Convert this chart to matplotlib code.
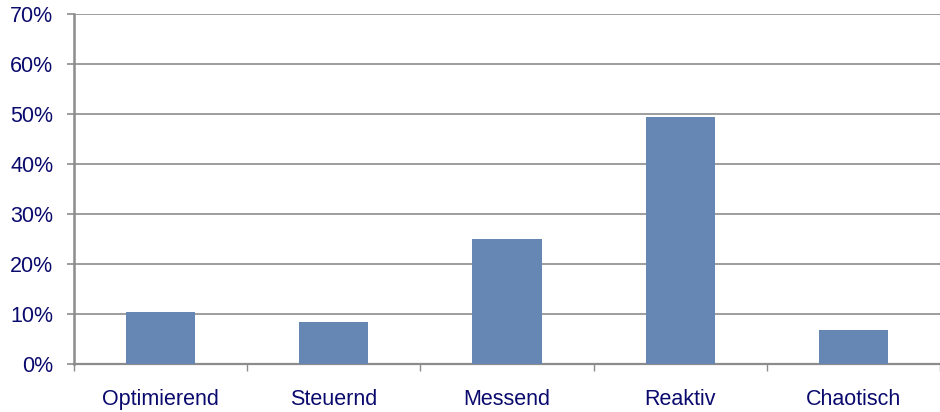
import matplotlib
matplotlib.use("Agg")
import matplotlib.pyplot as plt
from matplotlib.ticker import FixedLocator, PercentFormatter

categories = ["Optimierend", "Steuernd", "Messend", "Reaktiv", "Chaotisch"]
shares = [10.4, 8.3, 25.0, 49.3, 6.8]
y_ticks = [0, 10, 20, 30, 40, 50, 60, 70]

plt.rcParams["font.family"] = ["Liberation Sans", "DejaVu Sans"]

bar_color = "#6686B4"
text_color = "#0A0A6E"
line_color = "#8C8C8C"

fig = plt.figure(figsize=(9.4, 4.12), dpi=100)
ax = fig.add_axes([0.0787, 0.1177, 0.9213, 0.8483])

x = range(len(categories))
ax.bar(x, shares, width=0.4, color=bar_color, zorder=3)

ax.set_xlim(-0.5, len(categories) - 0.5)
ax.set_ylim(0, 70)
ax.set_yticks(y_ticks)
ax.yaxis.set_major_formatter(PercentFormatter(decimals=0))
ax.yaxis.grid(True, color=line_color, linewidth=1.2, zorder=0)

ax.set_xticks(list(x))
ax.set_xticklabels(categories)
ax.xaxis.set_minor_locator(FixedLocator([i + 0.5 for i in range(-1, len(categories))]))
ax.tick_params(axis="x", which="major", length=0, pad=18, labelsize=15.5, labelcolor=text_color)
ax.tick_params(axis="x", which="minor", length=5, width=1, color=line_color)
ax.tick_params(axis="y", length=5, width=1.2, color=line_color, pad=10,
               labelsize=15.5, labelcolor=text_color)

for side in ("top", "right"):
    ax.spines[side].set_visible(False)
ax.spines["left"].set_color(line_color)
ax.spines["left"].set_linewidth(1.8)
ax.spines["bottom"].set_color(line_color)
ax.spines["bottom"].set_linewidth(1.6)

fig.savefig("out.png", dpi=100)
